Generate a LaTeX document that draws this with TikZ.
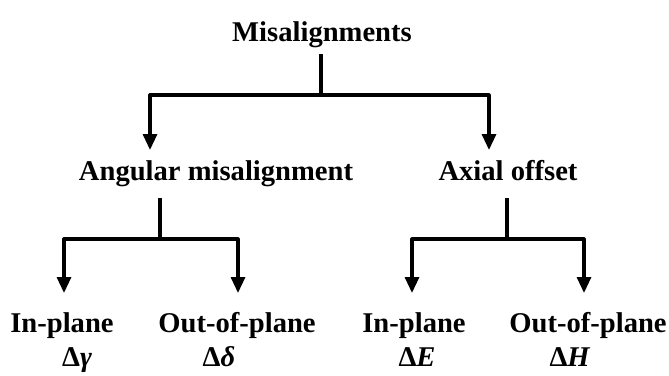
\documentclass[tikz,border=0pt]{standalone}
\usepackage{fontspec}
\setmainfont{Liberation Serif}
\usetikzlibrary{arrows.meta}
\begin{document}
\begin{tikzpicture}[x=1pt,y=-1pt,
  lbl/.style={anchor=base,inner sep=0pt,font=\fontsize{28.6}{32}\selectfont\bfseries},
  toplbl/.style={anchor=base,inner sep=0pt,font=\fontsize{28.6}{32}\selectfont\bfseries},
  conn/.style={line width=3.2pt,line join=round,-{Triangle[length=16pt,width=14pt]}},
  plain/.style={line width=3.2pt,line join=round}]
\useasboundingbox (0,0) rectangle (669,375);
% texts
\node[toplbl] (mis) at (322,41) {Misalignments};
\node[lbl] (ang) at (216,180) {Angular misalignment};
\node[lbl] (ax) at (508,180) {Axial offset};
\node[lbl] (ip1) at (62,332) {In-plane};
\node[lbl] (op1) at (237,332) {Out-of-plane};
\node[lbl] (ip2) at (414,332) {In-plane};
\node[lbl] (op2) at (588,332) {Out-of-plane};
\node[lbl] (g1) at (77,366) {Δ\textit{γ}};
\node[lbl] (g2) at (219,366) {Δ\textit{δ}};
\node[lbl] (g3) at (417,366) {Δ\textit{E}};
\node[lbl] (g4) at (570,366) {Δ\textit{H}};
% junctions
\coordinate (m0) at (321,54);
\coordinate (mj) at (321,95);
\coordinate (t1) at (150,150);
\coordinate (t2) at (489,150);
\coordinate (a0) at (160,198);
\coordinate (aj) at (160,239);
\coordinate (t3) at (64,293);
\coordinate (t4) at (238,293);
\coordinate (x0) at (507,198);
\coordinate (xj) at (507,239);
\coordinate (t5) at (412,293);
\coordinate (t6) at (584,293);
% connectors
\draw[plain] (m0) -- (mj);
\draw[conn] (mj) -| (t1);
\draw[conn] (mj) -| (t2);
\draw[plain] (a0) -- (aj);
\draw[conn] (aj) -| (t3);
\draw[conn] (aj) -| (t4);
\draw[plain] (x0) -- (xj);
\draw[conn] (xj) -| (t5);
\draw[conn] (xj) -| (t6);
\end{tikzpicture}
\end{document}
